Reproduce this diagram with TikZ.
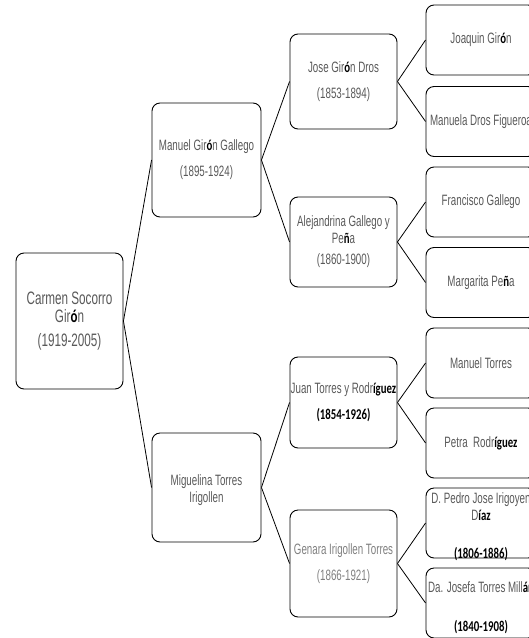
\documentclass[tikz,border=0pt]{standalone}
\usepackage{fontspec}
\setmainfont{Liberation Sans}[FakeStretch=0.65]
\newfontfamily\calb{Carlito}[FakeStretch=0.72]
\definecolor{tg}{RGB}{89,89,89}
\definecolor{tl}{RGB}{128,128,128}
\newcommand\bo[1]{{\calb\bfseries\color{black}#1}}
\tikzset{
 pbox/.style={draw=black, line width=0.9pt, rounded corners=8pt, inner sep=0pt},
 ptext/.style={text=tg, align=center, font=\fontsize{15}{17}\selectfont, inner sep=0pt},
 link/.style={draw=black, line width=0.8pt}
}
\begin{document}
\begin{tikzpicture}[x=1pt,y=-1pt]
\useasboundingbox (0,0) rectangle (529,638);
\clip (0,0) rectangle (529,638);
% boxes
\node[pbox, minimum width=107pt, minimum height=136pt] (root) at (69.5,321) {};
\node[pbox, minimum width=109pt, minimum height=114pt] (manuel) at (206.5,160) {};
\node[pbox, minimum width=109pt, minimum height=109pt] (migu) at (206.5,487.5) {};
\node[pbox, minimum width=107pt, minimum height=95pt] (jose) at (343.5,81.5) {};
\node[pbox, minimum width=107pt, minimum height=90pt] (alej) at (343.5,242) {};
\node[pbox, minimum width=107pt, minimum height=91pt] (juan) at (343.5,402.5) {};
\node[pbox, minimum width=107pt, minimum height=107pt] (genara) at (343.5,563.5) {};
\node[pbox, minimum width=110pt, minimum height=70pt] (joaq) at (481,40) {};
\node[pbox, minimum width=110pt, minimum height=70pt] (manuela) at (481,121.5) {};
\node[pbox, minimum width=110pt, minimum height=70pt] (franc) at (481,202) {};
\node[pbox, minimum width=110pt, minimum height=70pt] (marg) at (481,282.5) {};
\node[pbox, minimum width=110pt, minimum height=70pt] (mtorres) at (481,363) {};
\node[pbox, minimum width=110pt, minimum height=70pt] (petra) at (481,443) {};
\node[pbox, minimum width=110pt, minimum height=70pt] (pedro) at (481,523) {};
\node[pbox, minimum width=110pt, minimum height=70pt] (josefa) at (481,603) {};
% texts
\node[ptext, font=\fontsize{18}{18}\selectfont] (troot) at (root.center) {Carmen Socorro\\Gir\bo{ó}n\\[6pt](1919-2005)};
\node[ptext] (tmanuel) at (manuel.center) {Manuel Gir\bo{ó}n Gallego\\[9pt](1895-1924)};
\node[ptext] (tmigu) at ([yshift=-3pt]migu.center) {Miguelina Torres\\Irigollen};
\node[ptext] (tjose) at (jose.center) {Jose Gir\bo{ó}n Dros\\[9pt](1853-1894)};
\node[ptext] (talej) at (alej.center) {Alejandrina Gallego y\\Pe\bo{ñ}a\\[4pt](1860-1900)};
\node[ptext] (tjuan) at (juan.center) {Juan Torres y Rodr\bo{íguez}\\[9pt]\bo{(1854-1926)}};
\node[ptext, text=tl] (tgenara) at (genara.center) {Genara Irigollen Torres\\[9pt](1866-1921)};
\node[ptext] (tjoaq) at (joaq.center) {Joaquin Gir\bo{ó}n};
\node[ptext] (tmanuela) at (manuela.center) {Manuela Dros Figueroa};
\node[ptext] (tfranc) at (franc.center) {Francisco Gallego};
\node[ptext] (tmarg) at (marg.center) {Margarita Pe\bo{ñ}a};
\node[ptext] (tmtorres) at (mtorres.center) {Manuel Torres};
\node[ptext] (tpetra) at (petra.center) {Petra\ \ Rodr\bo{íguez}};
\node[ptext] (tpedro) at ([yshift=-4pt]pedro.center) {D. Pedro Jose Irigoyen\\D\bo{íaz}\\[21pt]\bo{(1806-1886)}};
\node[ptext] (tjosefa) at ([yshift=-5pt]josefa.center) {Da. Josefa Torres Mill\bo{án}\\[22pt]\bo{(1840-1908)}};
% connectors
\draw[link] (root.east) -- (manuel.west);
\draw[link] (root.east) -- (migu.west);
\draw[link] (manuel.east) -- (jose.west);
\draw[link] (manuel.east) -- (alej.west);
\draw[link] (migu.east) -- (juan.west);
\draw[link] (migu.east) -- (genara.west);
\draw[link] (jose.east) -- (joaq.west);
\draw[link] (jose.east) -- (manuela.west);
\draw[link] (alej.east) -- (franc.west);
\draw[link] (alej.east) -- (marg.west);
\draw[link] (juan.east) -- (mtorres.west);
\draw[link] (juan.east) -- (petra.west);
\draw[link] (genara.east) -- (pedro.west);
\draw[link] (genara.east) -- (josefa.west);
\end{tikzpicture}
\end{document}
